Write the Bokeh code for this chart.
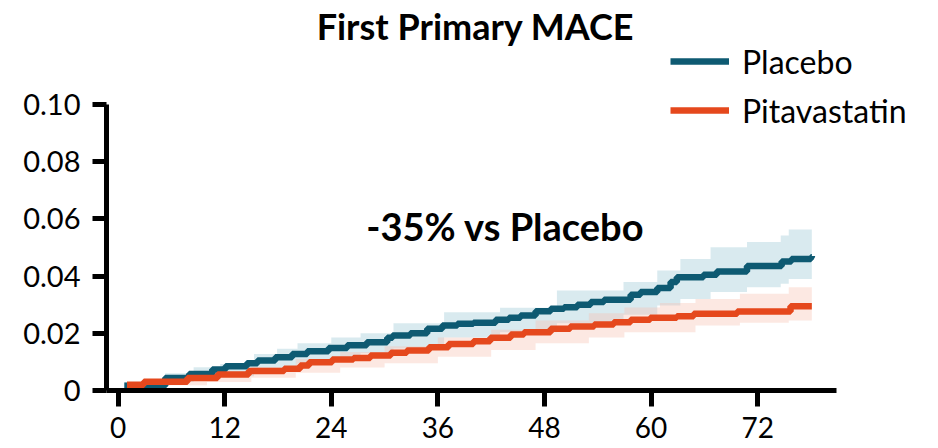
from bokeh.plotting import figure
from bokeh.models import Legend, LegendItem, Label, FixedTicker, CustomJSTickFormatter
from bokeh.embed import file_html
from bokeh.resources import INLINE

title_text = "First Primary MACE"
annotation_text = "-35% vs Placebo"
series_names = ["Placebo", "Pitavastatin"]
x_ticks = [0, 12, 24, 36, 48, 60, 72]
y_ticks = [0, 0.02, 0.04, 0.06, 0.08, 0.10]

# Kaplan-Meier style cumulative incidence (months, probability)
pbo_months = [0.7, 5.3, 8.0, 10.6, 12.1, 14.5, 15.7, 17.7, 19.6, 21.3, 23.7, 25.8, 28.0, 30.3, 30.9,
              32.9, 34.8, 36.5, 38.2, 40.0, 42.5, 44.0, 45.3, 47.0, 48.7, 50.2, 51.7, 53.2, 54.7,
              57.7, 58.8, 60.7, 62.2, 62.9, 65.9, 67.4, 70.8, 74.7, 75.8, 78.0, 78.1]
pbo_risk = [0.0017, 0.0044, 0.0058, 0.0073, 0.0085, 0.0095, 0.0105, 0.0116, 0.0128, 0.0137, 0.0149,
            0.0158, 0.0169, 0.0184, 0.0192, 0.0200, 0.0216, 0.0227, 0.0233, 0.0237, 0.0247, 0.0254,
            0.0262, 0.0277, 0.0286, 0.0291, 0.0300, 0.0309, 0.0317, 0.0335, 0.0344, 0.0358, 0.0379,
            0.0396, 0.0405, 0.0416, 0.0435, 0.0451, 0.0460, 0.0466, 0.0470]

pit_months = [1.0, 2.9, 7.8, 11.2, 14.7, 18.7, 20.5, 21.5, 24.1, 26.5, 28.4, 30.7, 32.5, 35.0, 37.2,
              40.0, 41.9, 44.2, 45.7, 48.7, 50.9, 53.6, 55.8, 57.7, 59.9, 62.9, 64.8, 69.7, 75.7, 78.1]
pit_risk = [0.0020, 0.0031, 0.0044, 0.0056, 0.0068, 0.0076, 0.0087, 0.0099, 0.0108, 0.0114, 0.0122,
            0.0132, 0.0140, 0.0151, 0.0163, 0.0172, 0.0184, 0.0196, 0.0204, 0.0216, 0.0224, 0.0231,
            0.0239, 0.0247, 0.0254, 0.0260, 0.0268, 0.0276, 0.0295, 0.0295]

# confidence bands
pbo_band_months = [0.7, 5.3, 8.5, 11.5, 15.3, 17.9, 20.2, 24.0, 27.3, 31.0, 36.7, 43.0, 49.4, 56.9,
                   60.7, 63.3, 66.7, 70.8, 74.6, 75.5, 78.1]
pbo_upper = [0.0030, 0.0060, 0.0081, 0.0093, 0.0128, 0.0146, 0.0165, 0.0185, 0.0200, 0.0235, 0.0274,
             0.0289, 0.0350, 0.0379, 0.0420, 0.0460, 0.0501, 0.0519, 0.0542, 0.0563, 0.0567]
pbo_lower = [0.0010, 0.0030, 0.0040, 0.0050, 0.0065, 0.0075, 0.0095, 0.0115, 0.0130, 0.0147, 0.0185,
             0.0204, 0.0235, 0.0265, 0.0297, 0.0320, 0.0344, 0.0361, 0.0373, 0.0390, 0.0402]

pit_band_months = [1.0, 5.0, 10.0, 15.0, 20.0, 25.0, 30.0, 36.0, 42.0, 47.0, 53.0, 57.0, 61.0, 65.0,
                   70.0, 75.5, 78.1]
pit_upper = [0.0030, 0.0045, 0.0060, 0.0082, 0.0110, 0.0135, 0.0155, 0.0185, 0.0212, 0.0245, 0.0270,
             0.0290, 0.0306, 0.0320, 0.0338, 0.0361, 0.0361]
pit_lower = [0.0010, 0.0018, 0.0030, 0.0045, 0.0062, 0.0080, 0.0095, 0.0118, 0.0142, 0.0165, 0.0185,
             0.0204, 0.0204, 0.0227, 0.0237, 0.0245, 0.0245]

x_axis_span = (-1.306, 80.87)
y_axis_span = (0, 0.10)

PBO = "#0e5a72"
PIT = "#e5481d"
FONT = "Lato"

W, H = 938, 448
FL, FB = 106, 390  # frame left / bottom in canvas px (frame reaches top and right edges)

p = figure(width=W, height=H, output_backend="svg", toolbar_location=None, title=None,
           x_range=(-1.306, 92.36), y_range=(0, 0.13636),
           min_border_left=FL, min_border_right=0, min_border_top=0, min_border_bottom=H - FB)
p.outline_line_color = None
p.grid.visible = False
p.background_fill_color = "white"
p.border_fill_color = "white"

p.varea_step(x=pbo_band_months, y1=pbo_lower, y2=pbo_upper, step_mode="after",
             fill_color="#9fcad8", fill_alpha=0.40)
p.varea_step(x=pit_band_months, y1=pit_lower, y2=pit_upper, step_mode="after",
             fill_color="#f7bfae", fill_alpha=0.36)

r_pbo = p.step(pbo_months, pbo_risk, mode="after", line_color=PBO, line_width=6.5)
r_pit = p.step(pit_months, pit_risk, mode="after", line_color=PIT, line_width=6.5)

for ax in (p.xaxis[0], p.yaxis[0]):
    ax.axis_line_width = 5
    ax.axis_line_color = "black"
    ax.major_tick_line_width = 5
    ax.major_tick_line_color = "black"
    ax.major_tick_in = 0
    ax.minor_tick_line_color = None
    ax.major_label_text_color = "black"
    ax.major_label_text_font = FONT

p.xaxis.bounds = x_axis_span
p.xaxis.ticker = FixedTicker(ticks=x_ticks)
p.xaxis.major_tick_out = 16
p.xaxis.major_label_standoff = 10
p.xaxis.major_label_text_font_size = "28px"

p.yaxis.bounds = y_axis_span
p.yaxis.ticker = FixedTicker(ticks=y_ticks)
p.yaxis.formatter = CustomJSTickFormatter(code="return tick == 0 ? '0' : tick.toFixed(2);")
p.yaxis.major_tick_out = 14
p.yaxis.major_label_standoff = 12
p.yaxis.major_label_text_font_size = "29px"

legend = Legend(items=[LegendItem(label=series_names[0], renderers=[r_pbo]),
                       LegendItem(label=series_names[1], renderers=[r_pit])],
                location=(564, 260), orientation="vertical",
                glyph_width=59, glyph_height=40, label_height=40, spacing=9,
                label_standoff=13, padding=0, margin=0,
                border_line_color=None, background_fill_alpha=0,
                label_text_font=FONT, label_text_font_size="32px", label_text_color="black")
p.add_layout(legend)

p.add_layout(Label(x=43.6, y=0.0575, text=annotation_text, text_align="center",
                   text_baseline="middle", text_font=FONT, text_font_style="bold",
                   text_font_size="38px", text_color="black"))
p.add_layout(Label(x=369, y=365, x_units="screen", y_units="screen", text=title_text,
                   text_align="center", text_baseline="middle", text_font=FONT,
                   text_font_style="bold", text_font_size="36px", text_color="black"))

open("out.html", "w").write(file_html(p, INLINE))
